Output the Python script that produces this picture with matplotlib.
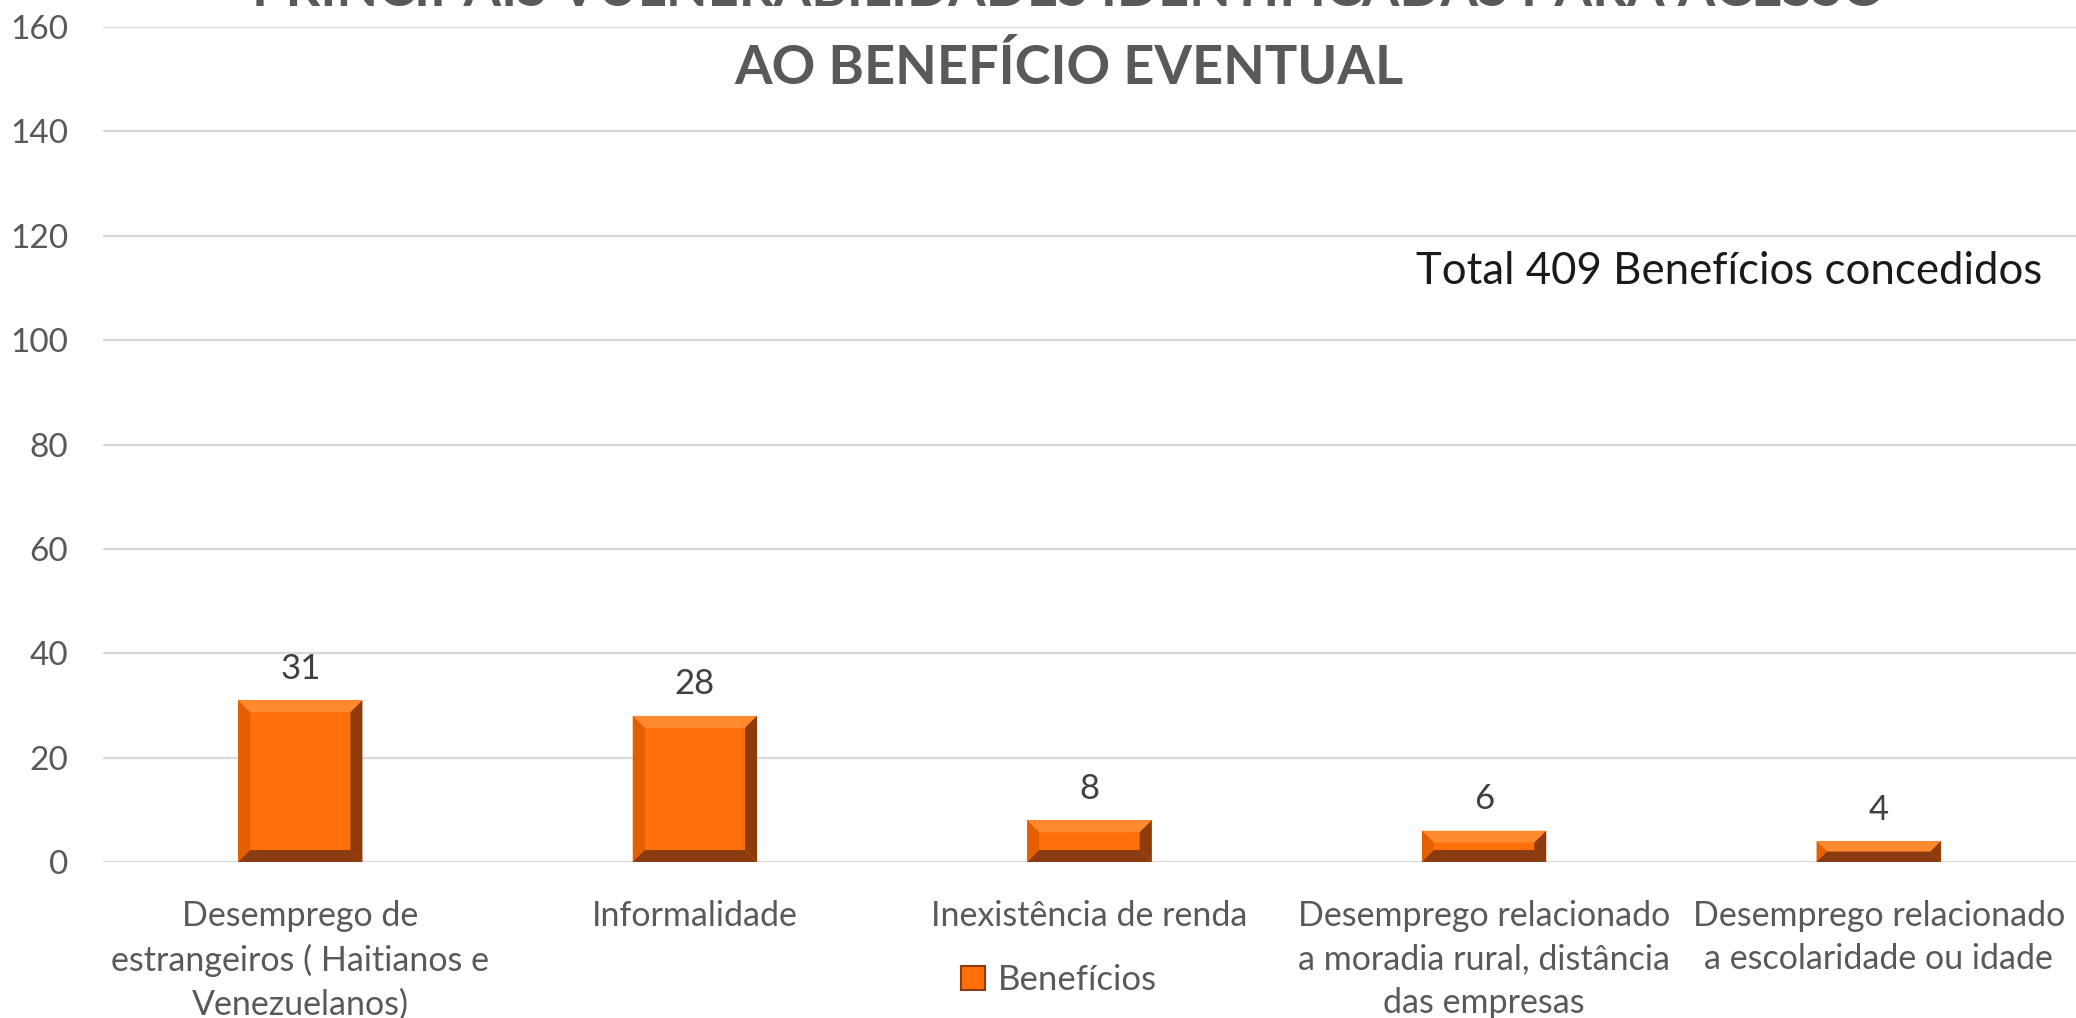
import matplotlib.pyplot as plt
import matplotlib as mpl
from matplotlib.patches import Polygon, Patch

mpl.rcParams['font.family'] = ['Lato', 'DejaVu Sans']

categorias = ['Desemprego de\nestrangeiros ( Haitianos e\nVenezuelanos)',
              'Informalidade',
              'Inexistência de renda',
              'Desemprego relacionado\na moradia rural, distância\ndas empresas',
              'Desemprego relacionado\na escolaridade ou idade']
beneficios = [31, 28, 8, 6, 4]
yticks = [0, 20, 40, 60, 80, 100, 120, 140, 160]

laranja = '#FF6F0A'
cinza = '#595959'

fig = plt.figure(figsize=(20.76, 10.18), dpi=100)
ax = fig.add_axes([0.0496, 0.1532, 0.9504, 0.8203])

xs = range(len(categorias))
bar_width = 0.315
bars = ax.bar(xs, beneficios, width=bar_width, color=laranja, edgecolor='none',
              zorder=3)

ax.set_xlim(-0.5, len(categorias) - 0.5)
ax.set_ylim(0, 160)
ax.set_yticks(yticks)

# chanfro nas barras (efeito 3D do Excel)
fig.canvas.draw()
inv = ax.transData.inverted()
bev = 12
for rect in bars:
    x0, y0 = rect.get_x(), rect.get_y()
    x1, y1 = x0 + rect.get_width(), y0 + rect.get_height()
    (px0, py0) = ax.transData.transform((x0, y0))
    (px1, py1) = ax.transData.transform((x1, y1))
    b = min(bev, (py1 - py0) / 2.0, (px1 - px0) / 2.0)
    ix0, iy0 = inv.transform((px0 + b, py0 + b))
    ix1, iy1 = inv.transform((px1 - b, py1 - b))
    faces = [
        ([(x0, y1), (x1, y1), (ix1, iy1), (ix0, iy1)], '#FF8A30'),
        ([(x0, y0), (x0, y1), (ix0, iy1), (ix0, iy0)], '#E35F00'),
        ([(x1, y0), (x1, y1), (ix1, iy1), (ix1, iy0)], '#8E3C0C'),
        ([(x0, y0), (x1, y0), (ix1, iy0), (ix0, iy0)], '#8A3B10'),
    ]
    for pts, c in faces:
        ax.add_patch(Polygon(pts, closed=True, facecolor=c, edgecolor='none',
                             zorder=4))

for x, y in zip(xs, beneficios):
    ax.text(x, y + 3, '%d' % y, ha='center', va='bottom', fontsize=25,
            color='#404040')

ax.grid(axis='y', color='#D9D9D9', linewidth=1.6, zorder=0)
for s in ax.spines.values():
    s.set_visible(False)
ax.tick_params(axis='both', length=0, colors=cinza)
ax.tick_params(axis='y', pad=25, labelsize=24)
ax.tick_params(axis='x', pad=27, labelsize=24.5)
ax.set_xticks(list(xs))
ax.set_xticklabels(categorias, linespacing=1.45)

fig.text(0.515, 0.971,
         'PRINCIPAIS VULNERABILIDADES IDENTIFICADAS PARA ACESSO\nAO BENEFÍCIO EVENTUAL',
         ha='center', va='center', fontsize=39, fontweight='bold', color=cinza,
         linespacing=1.68)

ax.text(0.983, 0.707, 'Total 409 Benefícios concedidos', transform=ax.transAxes,
        ha='right', va='center', fontsize=31.5, color='#1a1a1a')

handle = Patch(facecolor=laranja, edgecolor='#8A3B10', linewidth=1.5)
fig.legend([handle], ['Benefícios'], loc='center', bbox_to_anchor=(0.510, 0.037),
           frameon=False, fontsize=25, labelcolor=cinza, handlelength=0.7,
           handleheight=0.7, handletextpad=0.35)

plt.savefig('out.png', dpi=100)
